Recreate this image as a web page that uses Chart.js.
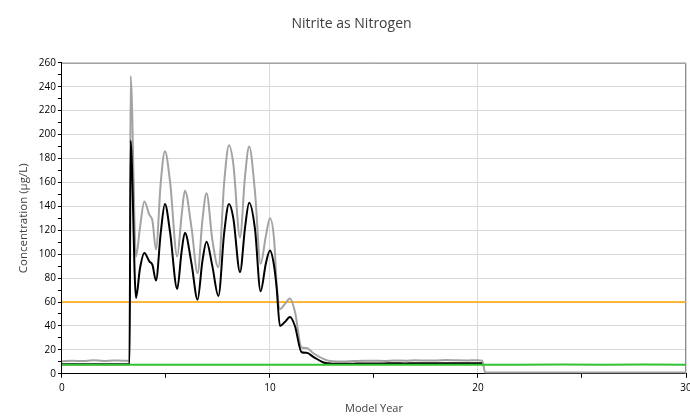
<!DOCTYPE html>
<html>
<head>
<meta charset="utf-8">
<script src="https://cdn.jsdelivr.net/npm/chart.js@4/dist/chart.umd.min.js"></script>
<style>
  html, body { margin: 0; padding: 0; background: #fff; }
  #wrap { width: 690px; height: 420px; }
</style>
</head>
<body>
<div id="wrap"><canvas id="chart"></canvas></div>
<script>
// Années du modèle (partagées par les deux courbes grise et noire)
const years = [0, 0.5, 1, 1.5, 2, 2.5, 3,
  3.25, 3.3, 3.56, 3.75, 3.96,
  4.2, 4.35, 4.52, 4.75, 4.95,
  5.2, 5.54, 5.75, 5.91,
  6.23, 6.52, 6.75, 6.95,
  7.23, 7.52, 7.8,
  8.03, 8.24, 8.56, 8.8,
  9.0, 9.28, 9.55, 9.8,
  10.0, 10.2, 10.32, 10.48, 10.7, 10.96,
  11.2, 11.52, 11.76,
  12.1, 12.57, 12.8,
  13.0, 13.5,
  14, 14.5, 15, 15.5, 16, 16.5, 17, 17.5, 18, 18.5, 19, 19.5, 20,
  20.2, 20.35, 25, 30];

// Courbe grise (haute)
const upperConc = [10.5, 11, 10.6, 11.4, 10.8, 11.2, 10.9,
  11, 249, 98, 122, 144,
  133, 128, 104, 160, 186,
  160, 98, 132, 153,
  122, 84, 128, 151,
  112, 89, 160,
  191, 175, 114, 165,
  190, 152, 92, 115,
  130, 112, 76, 54, 58, 63,
  52, 22, 21.5,
  17, 12.5, 11,
  10.5, 10.3,
  10.6, 10.9, 11, 10.8, 11.2, 11, 11.3, 11.1, 11.2, 11.5, 11.3, 11.2, 11.4,
  11, 1, 1, 1];

// Courbe noire (médiane) — masquée par la grise après l'année 20
const middleConc = [8, 8, 8, 8, 8, 8, 8,
  8, 195, 63.5, 88, 101,
  94, 91, 78, 118, 142,
  118, 71, 102, 118,
  92, 62, 94, 110.5,
  90, 65, 118,
  142, 130, 85, 122,
  143, 121, 69, 92,
  103, 90, 72, 40, 43, 47.5,
  40, 18, 17.5,
  14, 9.5, 8.8,
  8.5, 8.4,
  8.5, 8.6, 8.6, 8.7, 8.8, 8.7, 8.8, 8.8, 8.9, 8.8, 8.9, 8.9, 8.9,
  8.8, null, null, null];

// Courbe verte (basse)
const lowYears = [0, 2, 4, 6, 8, 10, 12, 14, 16, 18, 20, 22, 24, 26, 28, 30];
const lowConc = [7.5, 7.5, 7.5, 7.6, 7.5, 7.5, 7.6, 7.5, 7.5, 7.6, 7.5, 7.6, 7.7, 7.6, 7.7, 7.6];

// Seuil (ligne orange)
const limitYears = [0, 30];
const limitConc = [60, 60];

const yLabels = [0, 20, 40, 60, 80, 100, 120, 140, 160, 180, 200, 220, 240, 260];
const xLabels = [0, 10, 20, 30];

function toPoints(xs, ys) {
  return xs.map((x, i) => ({ x: x, y: ys[i] }));
}

// Cadre gris en haut et à droite de la zone de tracé
const frame = {
  id: 'frame',
  beforeDatasetsDraw(chart) {
    const a = chart.chartArea;
    const c = chart.ctx;
    c.save();
    c.strokeStyle = '#8c8c8c';
    c.lineWidth = 1;
    c.beginPath();
    c.moveTo(a.left, a.top + 0.5);
    c.lineTo(a.right - 0.5, a.top + 0.5);
    c.lineTo(a.right - 0.5, a.bottom);
    c.stroke();
    c.restore();
  }
};

const fontFam = "'Open Sans', 'Noto Sans', sans-serif";

new Chart(document.getElementById('chart'), {
  type: 'line',
  data: {
    datasets: [
      {
        label: 'Low',
        data: toPoints(lowYears, lowConc),
        borderColor: '#33c233',
        borderWidth: 2,
        pointRadius: 0,
        tension: 0
      },
      {
        label: 'Middle',
        data: toPoints(years, middleConc),
        borderColor: '#000000',
        borderWidth: 2,
        pointRadius: 0,
        cubicInterpolationMode: 'monotone'
      },
      {
        label: 'Upper',
        data: toPoints(years, upperConc),
        borderColor: '#a3a3a3',
        borderWidth: 2,
        pointRadius: 0,
        cubicInterpolationMode: 'monotone'
      },
      {
        label: 'Limit',
        data: toPoints(limitYears, limitConc),
        borderColor: '#ffa500',
        borderWidth: 1.5,
        pointRadius: 0
      }
    ]
  },
  options: {
    responsive: true,
    maintainAspectRatio: false,
    animation: false,
    layout: { padding: { top: 0, right: 4, bottom: 5, left: 17 } },
    plugins: {
      legend: { display: false },
      tooltip: { enabled: false },
      title: {
        display: true,
        text: 'Nitrite as Nitrogen',
        color: '#404040',
        font: { family: fontFam, size: 14, weight: 'normal' },
        padding: { top: 16, bottom: 30 }
      }
    },
    scales: {
      x: {
        type: 'linear',
        min: 0,
        max: 30,
        afterFit(scale) { scale.paddingRight = 0; },
        ticks: {
          stepSize: 5,
          autoSkip: false,
          maxRotation: 0,
          color: '#000',
          font: { family: fontFam, size: 10 },
          padding: 4,
          callback: v => xLabels.includes(v) ? String(v) : ''
        },
        grid: {
          color: ctx => (ctx.tick && ctx.tick.value % 10 === 0) ? '#d9d9d9' : 'transparent',
          tickColor: '#000',
          tickLength: 4
        },
        border: { color: '#000', width: 1 },
        title: {
          display: true,
          text: 'Model Year',
          color: '#404040',
          font: { family: fontFam, size: 11 },
          padding: { top: 4, bottom: 0 }
        }
      },
      y: {
        min: 0,
        max: 260,
        ticks: {
          stepSize: 10,
          autoSkip: false,
          color: '#000',
          font: { family: fontFam, size: 10 },
          padding: 2,
          callback: v => yLabels.includes(v) ? String(v) : ''
        },
        grid: {
          color: ctx => (ctx.tick && ctx.tick.value % 20 === 0) ? '#d9d9d9' : 'transparent',
          tickColor: '#000',
          tickLength: 4
        },
        border: { color: '#000', width: 1 },
        title: {
          display: true,
          text: 'Concentration (µg/L)',
          color: '#404040',
          font: { family: fontFam, size: 11.5 },
          padding: { top: 0, bottom: 6 }
        }
      }
    }
  },
  plugins: [frame]
});
</script>
</body>
</html>
